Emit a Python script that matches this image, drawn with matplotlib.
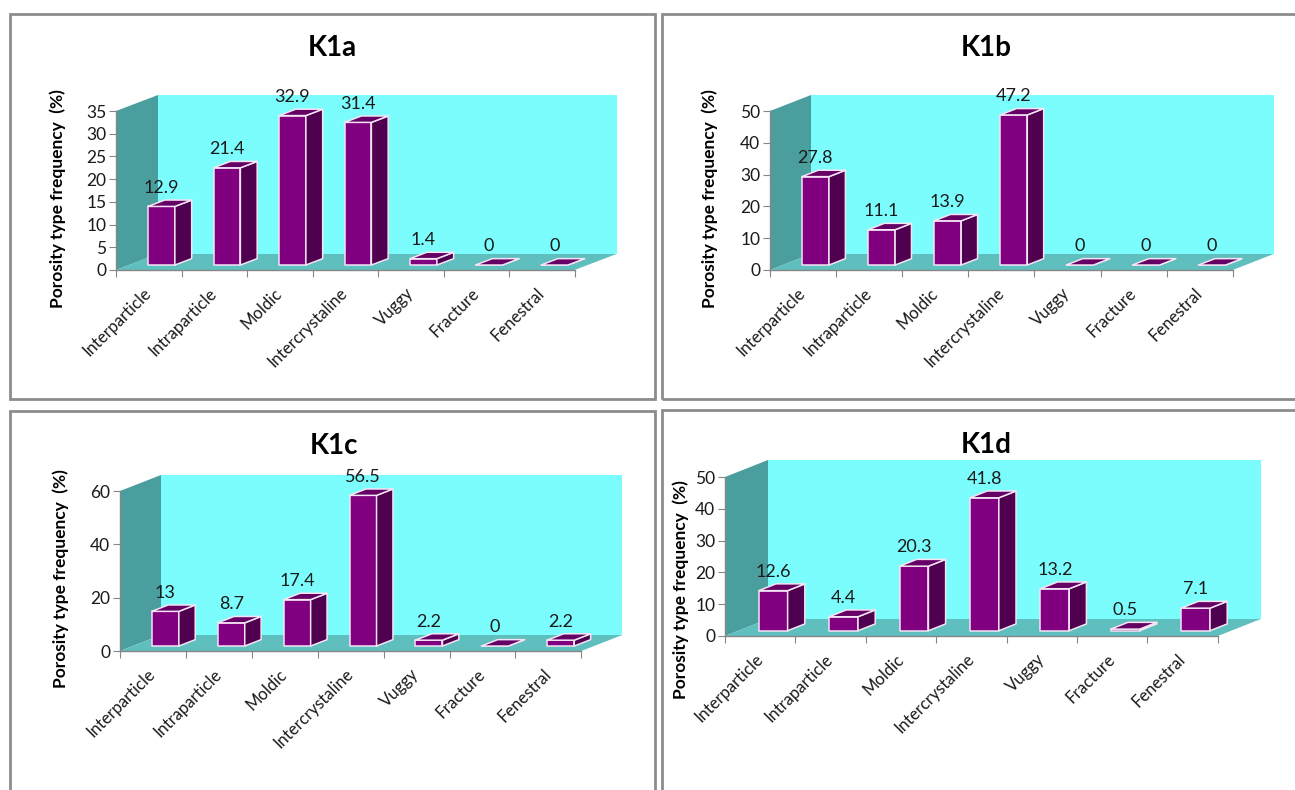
import matplotlib as mpl
from matplotlib import pyplot as plt
from matplotlib.patches import Polygon, Rectangle

categories = ['Interparticle', 'Intraparticle', 'Moldic', 'Intercrystaline',
              'Vuggy', 'Fracture', 'Fenestral']
titles = ['K1a', 'K1b', 'K1c', 'K1d']
k1a = [12.9, 21.4, 32.9, 31.4, 1.4, 0, 0]
k1b = [27.8, 11.1, 13.9, 47.2, 0, 0, 0]
k1c = [13, 8.7, 17.4, 56.5, 2.2, 0, 2.2]
k1d = [12.6, 4.4, 20.3, 41.8, 13.2, 0.5, 7.1]
y_max = [35, 50, 60, 50]
y_step = [5, 10, 20, 10]
ylabel = 'Porosity type frequency  (%)'

W, H = 1295, 790

# pixel layout: axis x, zero line y, category width, value span, depth dx, depth dy
layout = [
    (116, 270, 65.5, 159, 42, 16),
    (770, 270, 66.1, 159, 41, 16),
    (120, 651, 65.9, 160, 41, 16),
    (725, 636, 70.4, 159, 43, 17),
]
title_pos = [(332, 48), (986, 48), (334, 446), (986, 445)]
ylabel_pos = [(58, 199), (710, 199), (61, 579), (681, 590)]
frames = [(10, 14, 645, 385), (662, 14, 640, 385),
          (10, 411, 645, 390), (662, 410, 640, 390)]

style = {
    'BAR_X0': 0.29,      # bar front face start inside category
    'BAR_X1': 0.70,
    'BAR_Z0': 0.31,      # bar front position in floor depth
    'BAR_DEPTH': 0.40,   # bar depth as fraction of floor depth
}

WALL_BACK = '#7BFDFD'
WALL_SIDE = '#4A9E9E'
FLOOR = '#5FBEBE'
BAR_FRONT = '#800080'
BAR_SIDE = '#4F004F'
BAR_TOP = '#650065'
BAR_EDGE = '#F4E4F4'
AXIS_GRAY = '#868686'


def px_rect(x, y, w, h):
    """ pixel box (top-left origin) -> figure fraction """
    return [x / W, 1 - (y + h) / H, w / W, h / H]


def draw_panel(fig, spec, values, ymax, ystep):
    x_px, y0_px, catw, span, dx_px, dy_px = spec
    n = len(values)
    w_px = n * catw + dx_px
    h_px = span + dy_px
    ax = fig.add_axes(px_rect(x_px, y0_px - h_px, w_px, h_px))
    ax.patch.set_visible(False)

    ddx = dx_px / catw
    ddy = dy_px * ymax / span
    ax.set_xlim(0, n + ddx)
    ax.set_ylim(0, ymax + ddy)

    # walls and floor
    ax.add_patch(Polygon([(0, 0), (ddx, ddy), (ddx, ymax + ddy), (0, ymax)],
                         fc=WALL_SIDE, ec='none', clip_on=False))
    ax.add_patch(Polygon([(ddx, ddy), (n + ddx, ddy), (n + ddx, ymax + ddy),
                          (ddx, ymax + ddy)], fc=WALL_BACK, ec='none', clip_on=False))
    ax.add_patch(Polygon([(0, 0), (n, 0), (n + ddx, ddy), (ddx, ddy)],
                         fc=FLOOR, ec='none', clip_on=False))

    # bars
    z0 = style['BAR_Z0']
    ox, oy = style['BAR_DEPTH'] * ddx, style['BAR_DEPTH'] * ddy
    for i, v in enumerate(values):
        x0 = i + style['BAR_X0'] + z0 * ddx
        x1 = i + style['BAR_X1'] + z0 * ddx
        yb = z0 * ddy
        yt = yb + v
        front = [(x0, yb), (x1, yb), (x1, yt), (x0, yt)]
        side = [(x1, yb), (x1 + ox, yb + oy), (x1 + ox, yt + oy), (x1, yt)]
        top = [(x0, yt), (x1, yt), (x1 + ox, yt + oy), (x0 + ox, yt + oy)]
        for pts, col in ((front, BAR_FRONT), (side, BAR_SIDE), (top, BAR_TOP)):
            ax.add_patch(Polygon(pts, fc=col, ec=BAR_EDGE, lw=1.1,
                                 joinstyle='round', clip_on=False))
        ax.annotate('%g' % v, xy=((x0 + x1) / 2, yt + oy), xytext=(0, 3),
                    textcoords='offset points', ha='center', va='bottom',
                    fontsize=13, color='#1a1a1a')

    # axes
    for s in ('top', 'right'):
        ax.spines[s].set_visible(False)
    ax.spines['left'].set_bounds(0, ymax)
    ax.spines['bottom'].set_bounds(0, n)
    for s in ('left', 'bottom'):
        ax.spines[s].set_color(AXIS_GRAY)
        ax.spines[s].set_linewidth(1.0)
    ax.set_yticks(range(0, ymax + 1, ystep))
    ax.tick_params(axis='y', direction='out', length=5, color=AXIS_GRAY,
                   labelsize=12.5, labelcolor='#1a1a1a', pad=2)
    ax.set_xticks(range(n + 1), labels=[''] * (n + 1))
    ax.tick_params(axis='x', which='major', direction='out', length=5,
                   color=AXIS_GRAY)
    ax.set_xticks([i + 0.5 for i in range(n)], minor=True)
    ax.set_xticklabels(categories, minor=True, rotation=45, ha='right',
                       va='center', rotation_mode='anchor')
    ax.tick_params(axis='x', which='minor', length=0, pad=15, labelsize=12,
                   labelcolor='#1a1a1a')
    return ax


def main():
    mpl.rcParams['font.family'] = ['Lato', 'DejaVu Sans']
    fig = plt.figure(figsize=(W / 100, H / 100), dpi=100)
    fig.patch.set_facecolor('white')

    for fx, fy, fw, fh in frames:
        fig.add_artist(Rectangle((fx / W, 1 - (fy + fh) / H), fw / W, fh / H,
                                 transform=fig.transFigure, fill=False,
                                 ec='#8c8c8c', lw=2))

    data = [k1a, k1b, k1c, k1d]
    for j, values in enumerate(data):
        draw_panel(fig, layout[j], values, y_max[j], y_step[j])
        tx, ty = title_pos[j]
        fig.text(tx / W, 1 - ty / H, titles[j], ha='center', va='center',
                 fontsize=20, fontweight='bold')
        lx, ly = ylabel_pos[j]
        fig.text(lx / W, 1 - ly / H, ylabel, ha='center', va='center',
                 rotation=90, fontsize=12.5, fontweight='bold')

    fig.savefig('out.png', dpi=100)


if __name__ == '__main__':
    main()
